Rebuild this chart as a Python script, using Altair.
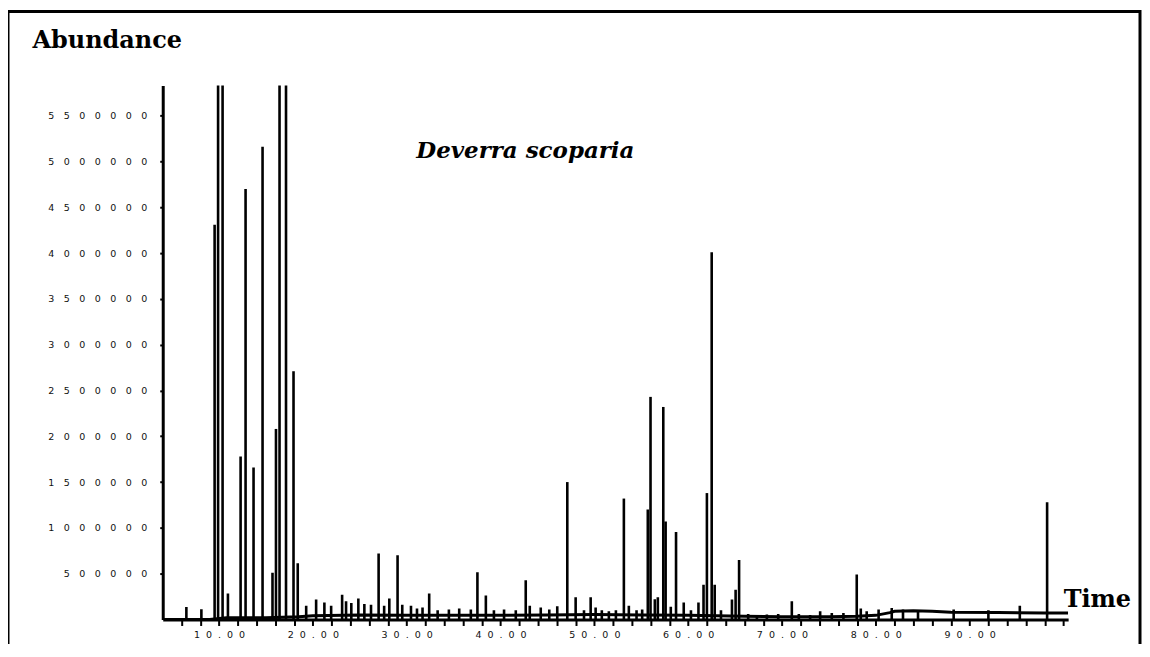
import altair as alt
import pandas as pd

# ---- data (time in min, abundance) ----
PEAK_TIMES = [6.52, 8.12, 9.53, 9.90, 10.38, 10.95, 12.30, 12.83, 13.68, 14.64,
              15.70, 16.07, 16.45, 17.14, 17.94, 18.39, 19.29, 20.35, 21.23, 21.95,
              23.12, 23.54, 24.10, 24.85, 25.49, 26.20, 27.01, 27.60, 28.15, 29.03,
              29.53, 30.46, 31.10, 31.69, 32.40, 33.30, 34.50, 35.60, 36.84, 37.54,
              38.44, 39.30, 40.38, 41.63, 42.69, 43.12, 44.29, 45.20, 46.05, 47.12,
              48.01, 48.90, 49.61, 50.14, 50.80, 51.55, 52.30, 53.15, 53.68, 54.50,
              55.10, 55.70, 55.99, 56.45, 56.77, 57.35, 57.60, 58.15, 58.71, 59.53,
              60.30, 61.10, 61.64, 62.00, 62.51, 62.83, 63.50, 64.67, 65.06, 65.43,
              66.40, 67.33, 68.39, 69.60, 71.05, 71.80, 73.00, 74.07, 75.31, 76.55,
              77.97, 78.40, 79.03, 80.30, 81.70, 82.90, 84.50, 88.30, 92.00, 95.35,
              98.26]
PEAK_HEIGHTS = [137000, 111000, 4310000, 6200000, 6200000, 283000, 1780000, 4700000, 1660000, 5160000,
                510000, 2080000, 6200000, 6200000, 2710000, 615000, 150000, 218000, 185000, 150000,
                270000, 200000, 180000, 230000, 170000, 160000, 720000, 150000, 230000, 700000,
                160000, 150000, 120000, 130000, 283000, 100000, 109000, 120000, 109000, 515000,
                261000, 100000, 110000, 100000, 428000, 150000, 130000, 110000, 145000, 1500000,
                243000, 100000, 243000, 130000, 100000, 90000, 100000, 1320000, 150000, 100000,
                110000, 1200000, 2430000, 220000, 243000, 2320000, 1070000, 140000, 955000, 185000,
                100000, 185000, 380000, 1380000, 4010000, 380000, 100000, 218000, 325000, 650000,
                60000, 50000, 55000, 60000, 200000, 60000, 50000, 90000, 70000, 70000,
                490000, 120000, 90000, 110000, 125000, 110000, 100000, 110000, 100000, 150000,
                1280000]

BASE_TIMES = [4.0, 9.0, 10.8, 15.0, 18.5, 20.0, 25.0, 30.0, 35.0, 40.0, 45.0, 50.0,
              55.0, 60.0, 63.0, 66.0, 70.0, 75.0, 78.0, 80.0, 81.5, 82.0, 84.0, 86.0,
              88.0, 93.0, 98.0, 100.5]
BASE_LEVELS = [0, 0, 20000, 20000, 30000, 40000, 50000, 45000, 45000, 45000, 50000, 55000,
               50000, 45000, 40000, 35000, 30000, 30000, 35000, 45000, 75000, 90000, 95000, 90000,
               80000, 75000, 70000, 70000]

X_TICKS = [6, 8, 10, 12, 14, 16, 18, 20, 22, 24, 26, 28, 30, 32, 34, 36, 38, 40, 42, 44,
           46, 48, 50, 52, 54, 56, 58, 60, 62, 64, 66, 68, 70, 72, 74, 76, 78, 80, 82, 84,
           86, 88, 90, 92, 94, 96, 98, 100]
X_LABELED = [10, 20, 30, 40, 50, 60, 70, 80, 90]
Y_TICKS = [500000, 1000000, 1500000, 2000000, 2500000, 3000000, 3500000, 4000000,
           4500000, 5000000, 5500000]
SPECIES = ["Deverra scoparia"]
Y_TITLE = "Abundance"
X_TITLE = "Time"

peaks = pd.DataFrame({"time": PEAK_TIMES, "abundance": PEAK_HEIGHTS})
peaks["base"] = 0
baseline = pd.DataFrame({"time": BASE_TIMES, "abundance": BASE_LEVELS})

x_scale = alt.Scale(domain=[4, 100.5], nice=False, zero=False)
y_scale = alt.Scale(domain=[0, 5830000], nice=False)

FIG = "\u2007"
EM = "\u2003"
labeled = ",".join(str(v) for v in X_LABELED)

x_axis = alt.Axis(
    values=X_TICKS, tickCount=200,
    labelExpr=f"indexof([{labeled}], datum.value) >= 0 ? join(split(format(datum.value, '.2f'), ''), '{FIG}') : ''",
    labelOverlap=False, labelBound=False,
    labelFont="DejaVu Sans", labelFontSize=9.5, labelColor="#111",
    labelPadding=4,
    domainColor="black", domainWidth=3,
    tickColor="black", tickWidth=2, tickSize=6,
    grid=False,
    title=X_TITLE, titleFont="DejaVu Serif", titleFontSize=24, titleFontWeight="bold",
    titleColor="black", titleAlign="left", titleBaseline="alphabetic",
    titleAnchor="start", titleX=902, titleY=-13,
)
y_axis = alt.Axis(
    values=Y_TICKS, tickCount=50,
    labelExpr=f"join(split(format(datum.value, 'd'), ''), '{EM}')",
    labelOverlap=False, labelBound=False,
    labelFont="DejaVu Sans", labelFontSize=9.5, labelColor="#111",
    labelPadding=13,
    domainColor="black", domainWidth=3,
    tickColor="black", tickWidth=2, tickSize=3,
    grid=False,
    title=Y_TITLE, titleFont="DejaVu Serif", titleFontSize=24, titleFontWeight="bold",
    titleColor="black", titleAngle=0, titleAlign="left", titleBaseline="alphabetic",
    titleAnchor="start", titleX=-131, titleY=-38,
)

peak_layer = alt.Chart(peaks).mark_rule(color="black", strokeWidth=2.6, clip=True).encode(
    x=alt.X("time:Q", scale=x_scale, axis=x_axis),
    y=alt.Y("abundance:Q", scale=y_scale, axis=y_axis),
    y2=alt.Y2("base:Q"),
)

base_layer = alt.Chart(baseline).mark_line(color="black", strokeWidth=3, clip=True).encode(
    x=alt.X("time:Q", scale=x_scale),
    y=alt.Y("abundance:Q", scale=y_scale),
)

label_layer = alt.Chart(pd.DataFrame({"name": SPECIES})).mark_text(
    font="DejaVu Serif", fontSize=23, fontStyle="italic", fontWeight="bold",
    color="black", align="left", baseline="alphabetic",
).encode(text="name:N", x=alt.value(254), y=alt.value(73))

frame_layer = alt.Chart(pd.DataFrame({"k": [0]})).mark_rect(
    fill="white", fillOpacity=0, stroke="black", strokeWidth=3,
).encode(x=alt.value(-155), x2=alt.value(979), y=alt.value(-74), y2=alt.value(620))

chart = alt.layer(frame_layer, base_layer, peak_layer, label_layer).properties(
    width=907, height=535,
    background="white",
    autosize=alt.AutoSizeParams(type="none"),
    padding={"left": 155, "top": 77, "right": 74, "bottom": 24},
).configure_view(strokeWidth=0, stroke="transparent")

chart.save("out.html", embed_options={"renderer": "svg", "actions": False})
